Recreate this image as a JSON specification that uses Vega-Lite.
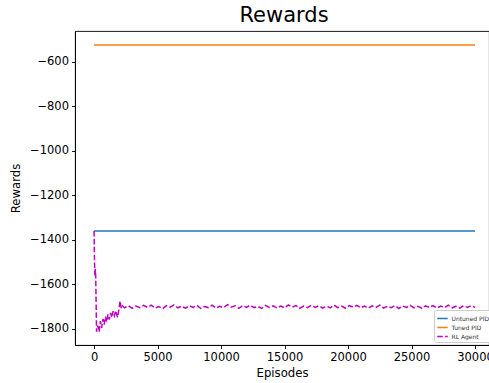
{
  "$schema": "https://vega.github.io/schema/vega-lite/v6.json",
  "width": 414,
  "height": 314,
  "autosize": {"type": "none"},
  "padding": {"left": 75, "top": 31, "right": 0, "bottom": 38},
  "background": "white",
  "title": {"text": "Rewards", "fontSize": 21, "font": "DejaVu Sans", "fontWeight": "normal", "color": "#000", "offset": 5, "dx": 2},
  "config": {
    "font": "DejaVu Sans",
    "view": {"stroke": "#000", "strokeWidth": 0.9},
    "axis": {"domainColor": "#000", "tickColor": "#000", "tickSize": 3.5, "labelFontSize": 11.5, "titleFontSize": 11.7, "labelColor": "#000", "titleColor": "#000", "titleFontWeight": "normal", "grid": false, "labelPadding": 3, "domainWidth": 0.9, "tickWidth": 0.9}
  },
  "data": {"values": [
    {"ep": 0, "r": -1360, "s": "Untuned PID"},
    {"ep": 30000, "r": -1360, "s": "Untuned PID"},
    {"ep": 0, "r": -525, "s": "Tuned PID"},
    {"ep": 30000, "r": -525, "s": "Tuned PID"},
    {"ep": 0, "r": -1360, "s": "RL Agent"},
    {"ep": 40, "r": -1505, "s": "RL Agent"},
    {"ep": 70, "r": -1560, "s": "RL Agent"},
    {"ep": 100, "r": -1530, "s": "RL Agent"},
    {"ep": 130, "r": -1565, "s": "RL Agent"},
    {"ep": 200, "r": -1812, "s": "RL Agent"},
    {"ep": 300, "r": -1785, "s": "RL Agent"},
    {"ep": 400, "r": -1812, "s": "RL Agent"},
    {"ep": 500, "r": -1765, "s": "RL Agent"},
    {"ep": 600, "r": -1795, "s": "RL Agent"},
    {"ep": 700, "r": -1755, "s": "RL Agent"},
    {"ep": 800, "r": -1780, "s": "RL Agent"},
    {"ep": 900, "r": -1745, "s": "RL Agent"},
    {"ep": 1000, "r": -1768, "s": "RL Agent"},
    {"ep": 1100, "r": -1735, "s": "RL Agent"},
    {"ep": 1200, "r": -1758, "s": "RL Agent"},
    {"ep": 1300, "r": -1728, "s": "RL Agent"},
    {"ep": 1400, "r": -1748, "s": "RL Agent"},
    {"ep": 1500, "r": -1720, "s": "RL Agent"},
    {"ep": 1600, "r": -1740, "s": "RL Agent"},
    {"ep": 1700, "r": -1718, "s": "RL Agent"},
    {"ep": 1850, "r": -1748, "s": "RL Agent"},
    {"ep": 1950, "r": -1715, "s": "RL Agent"},
    {"ep": 2050, "r": -1675, "s": "RL Agent"},
    {"ep": 2150, "r": -1708, "s": "RL Agent"},
    {"ep": 2250, "r": -1697, "s": "RL Agent"},
    {"ep": 2400, "r": -1705, "s": "RL Agent"},
    {"ep": 2700, "r": -1695, "s": "RL Agent"},
    {"ep": 3000, "r": -1707, "s": "RL Agent"},
    {"ep": 3300, "r": -1697, "s": "RL Agent"},
    {"ep": 3600, "r": -1704, "s": "RL Agent"},
    {"ep": 3900, "r": -1694, "s": "RL Agent"},
    {"ep": 4200, "r": -1703, "s": "RL Agent"},
    {"ep": 4500, "r": -1693, "s": "RL Agent"},
    {"ep": 4800, "r": -1706, "s": "RL Agent"},
    {"ep": 5100, "r": -1699, "s": "RL Agent"},
    {"ep": 5400, "r": -1709, "s": "RL Agent"},
    {"ep": 5700, "r": -1695, "s": "RL Agent"},
    {"ep": 6000, "r": -1702, "s": "RL Agent"},
    {"ep": 6300, "r": -1692, "s": "RL Agent"},
    {"ep": 6600, "r": -1705, "s": "RL Agent"},
    {"ep": 6900, "r": -1698, "s": "RL Agent"},
    {"ep": 7200, "r": -1707, "s": "RL Agent"},
    {"ep": 7500, "r": -1696, "s": "RL Agent"},
    {"ep": 7800, "r": -1703, "s": "RL Agent"},
    {"ep": 8100, "r": -1694, "s": "RL Agent"},
    {"ep": 8400, "r": -1708, "s": "RL Agent"},
    {"ep": 8700, "r": -1699, "s": "RL Agent"},
    {"ep": 9000, "r": -1704, "s": "RL Agent"},
    {"ep": 9300, "r": -1693, "s": "RL Agent"},
    {"ep": 9600, "r": -1706, "s": "RL Agent"},
    {"ep": 9900, "r": -1698, "s": "RL Agent"},
    {"ep": 10200, "r": -1705, "s": "RL Agent"},
    {"ep": 10500, "r": -1691, "s": "RL Agent"},
    {"ep": 10800, "r": -1702, "s": "RL Agent"},
    {"ep": 11100, "r": -1696, "s": "RL Agent"},
    {"ep": 11400, "r": -1707, "s": "RL Agent"},
    {"ep": 11700, "r": -1695, "s": "RL Agent"},
    {"ep": 12000, "r": -1703, "s": "RL Agent"},
    {"ep": 12300, "r": -1693, "s": "RL Agent"},
    {"ep": 12600, "r": -1704, "s": "RL Agent"},
    {"ep": 12900, "r": -1699, "s": "RL Agent"},
    {"ep": 13200, "r": -1708, "s": "RL Agent"},
    {"ep": 13500, "r": -1694, "s": "RL Agent"},
    {"ep": 13800, "r": -1703, "s": "RL Agent"},
    {"ep": 14100, "r": -1696, "s": "RL Agent"},
    {"ep": 14400, "r": -1706, "s": "RL Agent"},
    {"ep": 14700, "r": -1697, "s": "RL Agent"},
    {"ep": 15000, "r": -1705, "s": "RL Agent"},
    {"ep": 15300, "r": -1692, "s": "RL Agent"},
    {"ep": 15600, "r": -1702, "s": "RL Agent"},
    {"ep": 15900, "r": -1695, "s": "RL Agent"},
    {"ep": 16200, "r": -1707, "s": "RL Agent"},
    {"ep": 16500, "r": -1697, "s": "RL Agent"},
    {"ep": 16800, "r": -1704, "s": "RL Agent"},
    {"ep": 17100, "r": -1694, "s": "RL Agent"},
    {"ep": 17400, "r": -1703, "s": "RL Agent"},
    {"ep": 17700, "r": -1696, "s": "RL Agent"},
    {"ep": 18000, "r": -1706, "s": "RL Agent"},
    {"ep": 18300, "r": -1698, "s": "RL Agent"},
    {"ep": 18600, "r": -1705, "s": "RL Agent"},
    {"ep": 18900, "r": -1693, "s": "RL Agent"},
    {"ep": 19200, "r": -1704, "s": "RL Agent"},
    {"ep": 19500, "r": -1697, "s": "RL Agent"},
    {"ep": 19800, "r": -1707, "s": "RL Agent"},
    {"ep": 20100, "r": -1695, "s": "RL Agent"},
    {"ep": 20400, "r": -1702, "s": "RL Agent"},
    {"ep": 20700, "r": -1694, "s": "RL Agent"},
    {"ep": 21000, "r": -1705, "s": "RL Agent"},
    {"ep": 21300, "r": -1697, "s": "RL Agent"},
    {"ep": 21600, "r": -1707, "s": "RL Agent"},
    {"ep": 21900, "r": -1696, "s": "RL Agent"},
    {"ep": 22200, "r": -1703, "s": "RL Agent"},
    {"ep": 22500, "r": -1693, "s": "RL Agent"},
    {"ep": 22800, "r": -1706, "s": "RL Agent"},
    {"ep": 23100, "r": -1698, "s": "RL Agent"},
    {"ep": 23400, "r": -1704, "s": "RL Agent"},
    {"ep": 23700, "r": -1695, "s": "RL Agent"},
    {"ep": 24000, "r": -1708, "s": "RL Agent"},
    {"ep": 24300, "r": -1697, "s": "RL Agent"},
    {"ep": 24600, "r": -1703, "s": "RL Agent"},
    {"ep": 24900, "r": -1694, "s": "RL Agent"},
    {"ep": 25200, "r": -1705, "s": "RL Agent"},
    {"ep": 25500, "r": -1698, "s": "RL Agent"},
    {"ep": 25800, "r": -1707, "s": "RL Agent"},
    {"ep": 26100, "r": -1696, "s": "RL Agent"},
    {"ep": 26400, "r": -1703, "s": "RL Agent"},
    {"ep": 26700, "r": -1695, "s": "RL Agent"},
    {"ep": 27000, "r": -1706, "s": "RL Agent"},
    {"ep": 27300, "r": -1697, "s": "RL Agent"},
    {"ep": 27600, "r": -1704, "s": "RL Agent"},
    {"ep": 27900, "r": -1693, "s": "RL Agent"},
    {"ep": 28200, "r": -1705, "s": "RL Agent"},
    {"ep": 28500, "r": -1698, "s": "RL Agent"},
    {"ep": 28800, "r": -1707, "s": "RL Agent"},
    {"ep": 29100, "r": -1696, "s": "RL Agent"},
    {"ep": 29400, "r": -1703, "s": "RL Agent"},
    {"ep": 29700, "r": -1695, "s": "RL Agent"},
    {"ep": 30000, "r": -1703, "s": "RL Agent"}
  ]},
  "mark": {"type": "line", "strokeWidth": 1.5},
  "encoding": {
    "x": {"field": "ep", "type": "quantitative", "title": "Episodes",
      "scale": {"domain": [-1500, 31100], "nice": false, "zero": false},
      "axis": {"values": [0, 5000, 10000, 15000, 20000, 25000, 30000], "format": "d", "titlePadding": 4, "labelFlush": false, "labelOverlap": false}},
    "y": {"field": "r", "type": "quantitative", "title": "Rewards",
      "scale": {"domain": [-1872, -462], "nice": false, "zero": false},
      "axis": {"values": [-1800, -1600, -1400, -1200, -1000, -800, -600], "format": "d", "titlePadding": 8, "labelFlush": false, "labelOverlap": false}},
    "color": {"field": "s", "type": "nominal", "title": null,
      "scale": {"domain": ["Untuned PID", "Tuned PID", "RL Agent"], "range": ["#1f77b4", "#ff7f0e", "#bf00bf"]},
      "legend": {"orient": "none", "legendX": 359, "legendY": 279, "symbolType": "stroke", "symbolSize": 110, "symbolStrokeWidth": 1.5, "labelFontSize": 6, "labelColor": "#333", "rowPadding": -4, "labelOffset": 3, "fillColor": "white", "strokeColor": "#ccc", "cornerRadius": 2, "padding": 2.5}},
    "strokeDash": {"field": "s", "type": "nominal", "title": null,
      "scale": {"domain": ["Untuned PID", "Tuned PID", "RL Agent"], "range": [[1, 0], [1, 0], [5.5, 2.4]]},
      "legend": {"orient": "none", "legendX": 359, "legendY": 279, "symbolType": "stroke", "symbolSize": 110, "symbolStrokeWidth": 1.5, "labelFontSize": 6, "labelColor": "#333", "rowPadding": -4, "labelOffset": 3, "fillColor": "white", "strokeColor": "#ccc", "cornerRadius": 2, "padding": 2.5}}
  }
}
